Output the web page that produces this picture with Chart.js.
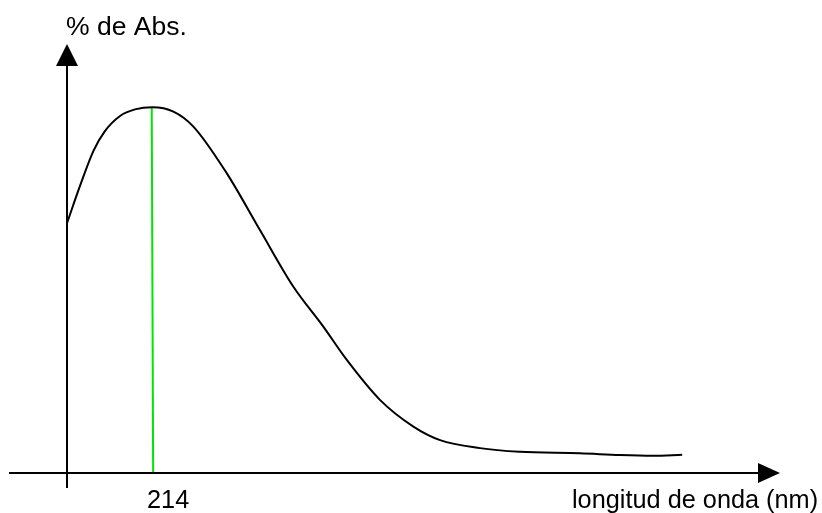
<!DOCTYPE html>
<html>
<head>
<meta charset="utf-8">
<script src="https://cdn.jsdelivr.net/npm/chart.js@4"></script>
<style>
    html, body { margin: 0; padding: 0; background: #fff; }
    canvas { display: block; }
</style>
</head>
<body>
<canvas id="espectro" width="822" height="513"></canvas>
<script>
(function () {
    'use strict';

    // longitud de onda (nm) y % de absorbancia
    var longitudes = [190, 193.7, 197.4, 200.6, 204.9, 209.1, 214, 219.9, 225.5, 234.9, 244.2, 253.6,
        262.0, 268.6, 277.9, 287.3, 294.8, 306.0, 317.2, 334.1, 345.3, 354.6, 362.8];
    var absorbancia = [68.3, 78.6, 88.0, 93.4, 97.6, 99.4, 100, 98.8, 94.7, 81.9, 66.4, 50.9,
        40.0, 30.9, 20.0, 12.7, 9.0, 6.8, 5.8, 5.4, 4.9, 4.7, 5.0];

    // marca del maximo
    var maximoX = [213.8, 214.2];
    var maximoY = [100, 0];

    var tituloY = '% de Abs.';
    var tituloX = 'longitud de onda (nm)';
    var etiquetaMaximo = '214';

    var familia = '"Liberation Sans", Arial, sans-serif';

    function puntos(xs, ys) {
        return xs.map(function (x, i) {
            return { x: x, y: ys[i] };
        });
    }

    var ejesConFlechas = {
        id: 'ejesConFlechas',
        afterDraw: function (chart) {
            var ctx = chart.ctx;
            var x0 = chart.scales.x.getPixelForValue(190);
            var y0 = chart.scales.y.getPixelForValue(0);

            ctx.save();
            ctx.strokeStyle = '#000';
            ctx.fillStyle = '#000';
            ctx.lineWidth = 2;

            // eje Y
            ctx.beginPath();
            ctx.moveTo(x0, y0 + 15);
            ctx.lineTo(x0, 66);
            ctx.stroke();
            ctx.beginPath();
            ctx.moveTo(x0, 44);
            ctx.lineTo(x0 - 11, 66);
            ctx.lineTo(x0 + 11, 66);
            ctx.closePath();
            ctx.fill();

            // eje X
            ctx.beginPath();
            ctx.moveTo(9, y0);
            ctx.lineTo(758, y0);
            ctx.stroke();
            ctx.beginPath();
            ctx.moveTo(780, y0);
            ctx.lineTo(758, y0 - 10);
            ctx.lineTo(758, y0 + 10);
            ctx.closePath();
            ctx.fill();

            ctx.textBaseline = 'alphabetic';
            ctx.textAlign = 'left';
            ctx.font = '26.5px ' + familia;
            ctx.fillText(tituloY, x0 - 1, 35);
            ctx.font = '25.3px ' + familia;
            ctx.fillText(etiquetaMaximo, 147, 508);
            ctx.fillText(tituloX, 572, 508);
            ctx.restore();
        }
    };

    new Chart(document.getElementById('espectro'), {
        type: 'line',
        data: {
            datasets: [
                {
                    data: puntos(longitudes, absorbancia),
                    borderColor: '#000',
                    borderWidth: 2,
                    pointRadius: 0,
                    cubicInterpolationMode: 'monotone',
                    fill: false,
                    clip: false
                },
                {
                    data: puntos(maximoX, maximoY),
                    borderColor: '#00e600',
                    borderWidth: 2,
                    pointRadius: 0,
                    tension: 0,
                    fill: false,
                    clip: false
                }
            ]
        },
        options: {
            responsive: false,
            animation: false,
            devicePixelRatio: 1,
            layout: { padding: { left: 67, right: 43, top: 34, bottom: 40 } },
            plugins: {
                legend: { display: false },
                tooltip: { enabled: false }
            },
            scales: {
                x: { type: 'linear', min: 190, max: 390, display: false },
                y: { type: 'linear', min: 0, max: 120, display: false }
            }
        },
        plugins: [ejesConFlechas]
    });
})();
</script>
</body>
</html>
